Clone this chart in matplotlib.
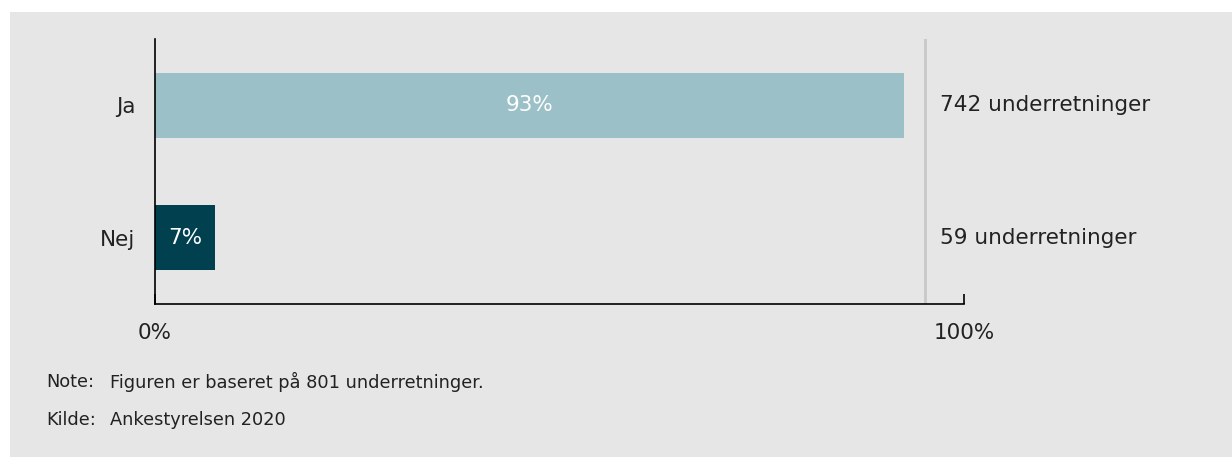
import matplotlib.pyplot as plt
from matplotlib.patches import Rectangle

categories = ['Nej', 'Ja']
shares = [7.4, 92.6]
share_labels = ['7%', '93%']
counts = [59, 742]
bar_colors = ['#00404f', '#9bc0c7']
note = 'Figuren er baseret på 801 underretninger.'
source = 'Ankestyrelsen 2020'

plt.rcParams['font.family'] = 'DejaVu Sans'

fig = plt.figure(figsize=(12.32, 4.57), dpi=100)
fig.patch.set_facecolor('white')
# grey panel behind everything
fig.patches.append(Rectangle((10 / 1232, 0), 1, 1 - 12 / 457, transform=fig.transFigure,
                             facecolor='#e6e6e6', edgecolor='none', zorder=-10))

ax = fig.add_axes([155 / 1232, 1 - 304 / 457, 809 / 1232, 265 / 457])
ax.set_facecolor('none')

ypos = range(len(categories))
ax.barh(ypos, shares, height=0.49, color=bar_colors)
for y, s, lab in zip(ypos, shares, share_labels):
    ax.text(s / 2, y, lab, ha='center', va='center', color='white', fontsize=15.5)
for y, n in zip(ypos, counts):
    ax.text(97, y, f'{n} underretninger', ha='left', va='center', color='#222222',
            fontsize=15.5, clip_on=False)

ax.axvline(95.2, color='#c8c8c8', lw=2, zorder=0)

ax.set_xlim(0, 100)
ax.set_ylim(-0.5, 1.5)
ax.set_yticks(list(ypos))
ax.set_yticklabels(categories, fontsize=15.5, color='#222222')
ax.set_xticks([0, 100])
ax.set_xticklabels(['0%', '100%'], fontsize=15.5, color='#222222')
ax.tick_params(axis='y', length=0, pad=14)
ax.tick_params(axis='x', direction='in', length=7, width=1.2, pad=14)
for side in ['top', 'right']:
    ax.spines[side].set_visible(False)
for side in ['left', 'bottom']:
    ax.spines[side].set_linewidth(1.2)

fig.text(46 / 1232, 1 - 382 / 457, 'Note:', fontsize=12.8, va='center', color='#222222')
fig.text(110 / 1232, 1 - 382 / 457, note, fontsize=12.8, va='center', color='#222222')
fig.text(46 / 1232, 1 - 420 / 457, 'Kilde:', fontsize=12.8, va='center', color='#222222')
fig.text(110 / 1232, 1 - 420 / 457, source, fontsize=12.8, va='center', color='#222222')

fig.savefig('out.png', dpi=100)
